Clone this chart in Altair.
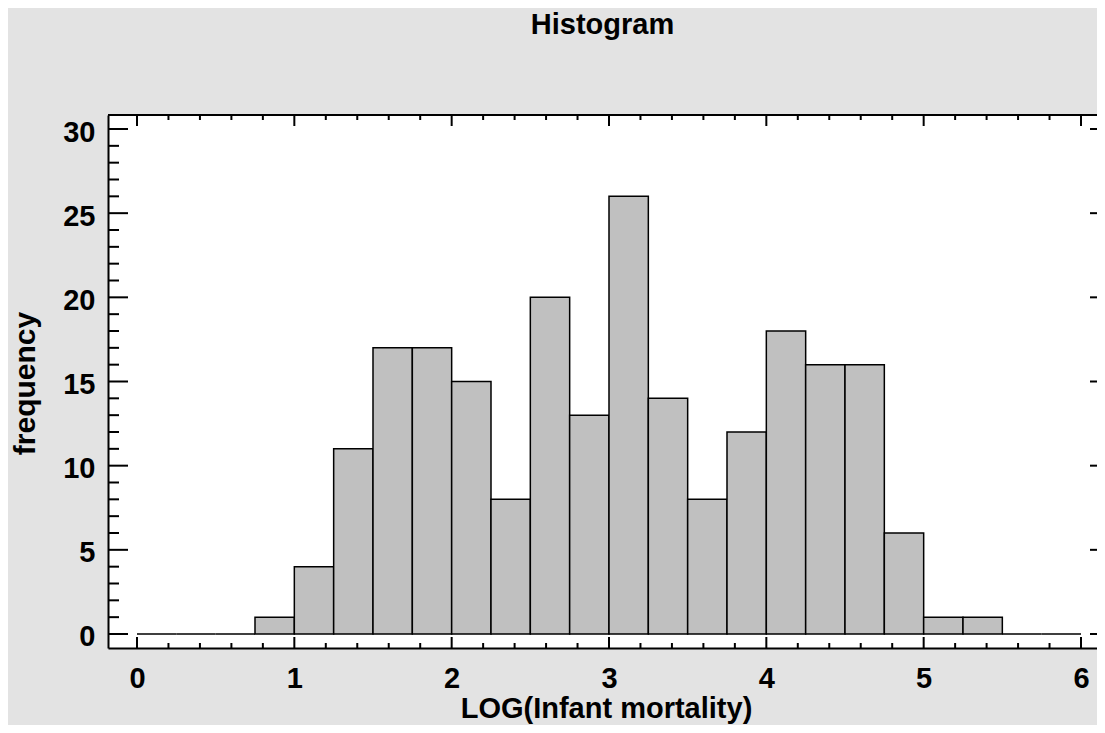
import altair as alt
import pandas as pd

# ---- data ----
bin_starts = [0.0, 0.25, 0.5, 0.75, 1.0, 1.25, 1.5, 1.75, 2.0, 2.25, 2.5, 2.75,
              3.0, 3.25, 3.5, 3.75, 4.0, 4.25, 4.5, 4.75, 5.0, 5.25, 5.5, 5.75]
frequencies = [0, 0, 0, 1, 4, 11, 17, 17, 15, 8, 20, 13,
               26, 14, 8, 12, 18, 16, 16, 6, 1, 1, 0, 0]
bin_width = 0.25

x_major_ticks = [0, 1, 2, 3, 4, 5, 6]
x_minor_ticks = [0.2, 0.4, 0.6, 0.8, 1.2, 1.4, 1.6, 1.8, 2.2, 2.4, 2.6, 2.8,
                 3.2, 3.4, 3.6, 3.8, 4.2, 4.4, 4.6, 4.8, 5.2, 5.4, 5.6, 5.8]
y_major_ticks = [0, 5, 10, 15, 20, 25, 30]
y_minor_ticks = [1, 2, 3, 4, 6, 7, 8, 9, 11, 12, 13, 14, 16, 17, 18, 19,
                 21, 22, 23, 24, 26, 27, 28, 29]

title_text = "Histogram"
x_title = "LOG(Infant mortality)"
y_title = "frequency"

# ---- layout ----
W, H = 989, 533
FONT = "Liberation Sans"
FS = 29

xs = alt.Scale(domain=[-0.1843, 6.1017], nice=False, zero=False)
ys = alt.Scale(domain=[-0.832, 30.832], nice=False, zero=False)

x_axis = alt.Axis(
    values=x_major_ticks, orient="bottom", title=x_title, format="d",
    ticks=False, tickSize=0, grid=False, labelFlush=False,
    labelPadding=16, labelFont=FONT, labelFontSize=FS, labelFontWeight="bold",
    labelColor="black", domain=True, domainColor="black", domainWidth=2,
    titleFont=FONT, titleFontSize=FS, titleFontWeight="bold", titleColor="black",
    titleX=498, titleY=69, titleBaseline="alphabetic", titleAlign="center")

y_axis = alt.Axis(
    values=y_major_ticks, orient="left", title=y_title, format="d",
    ticks=False, tickSize=0, grid=False, labelFlush=False,
    labelPadding=13, labelOffset=3, labelFont=FONT, labelFontSize=FS,
    labelFontWeight="bold", labelColor="black",
    domain=True, domainColor="black", domainWidth=2,
    titleFont=FONT, titleFontSize=30, titleFontWeight="bold", titleColor="black",
    titleX=-74, titleY=268, titleAngle=270, titleBaseline="alphabetic",
    titleAlign="center")

bars_df = pd.DataFrame({
    "start": bin_starts,
    "end": [s + bin_width for s in bin_starts],
    "freq": frequencies,
})

bars = alt.Chart(bars_df).mark_bar(
    fill="#c0c0c0", stroke="black", strokeWidth=1.5
).encode(
    x=alt.X("start:Q", scale=xs, axis=x_axis),
    x2="end:Q",
    y=alt.Y("freq:Q", scale=ys, axis=y_axis),
    y2=alt.datum(0),
)


def xtick_layer(vals, y0, y1):
    return alt.Chart(pd.DataFrame({"v": vals})).mark_rule(
        color="black", strokeWidth=2
    ).encode(x=alt.X("v:Q", scale=xs, axis=x_axis), y=alt.value(y0), y2=alt.value(y1))


def ytick_layer(vals, x0, x1):
    return alt.Chart(pd.DataFrame({"v": vals})).mark_rule(
        color="black", strokeWidth=2
    ).encode(y=alt.Y("v:Q", scale=ys, axis=y_axis), x=alt.value(x0), x2=alt.value(x1))


ticks = [
    xtick_layer(x_major_ticks, H, H - 11),
    xtick_layer(x_minor_ticks, H, H - 5),
    xtick_layer(x_major_ticks, 0, 11),
    xtick_layer(x_minor_ticks, 0, 5),
    ytick_layer(y_major_ticks, 0, 20),
    ytick_layer(y_minor_ticks, 0, 11),
    ytick_layer(y_major_ticks, W - 7, W),
]

top_frame = alt.Chart(pd.DataFrame({"a": [0]})).mark_rule(
    color="black", strokeWidth=2
).encode(x=alt.value(0), x2=alt.value(W), y=alt.value(0))

chart = alt.layer(bars, *ticks, top_frame).properties(
    width=W, height=H,
    title=alt.TitleParams(title_text, font=FONT, fontSize=FS, fontWeight="bold",
                          color="black", anchor="middle", frame="group",
                          baseline="alphabetic", offset=51),
    autosize=alt.AutoSizeParams(type="none"),
    padding={"left": 100, "top": 107, "right": 0, "bottom": 77},
    background="#e3e3e3",
).configure_view(fill="white", stroke="transparent", strokeWidth=0)

chart.save("out.html", embed_options={"renderer": "svg", "actions": False})
